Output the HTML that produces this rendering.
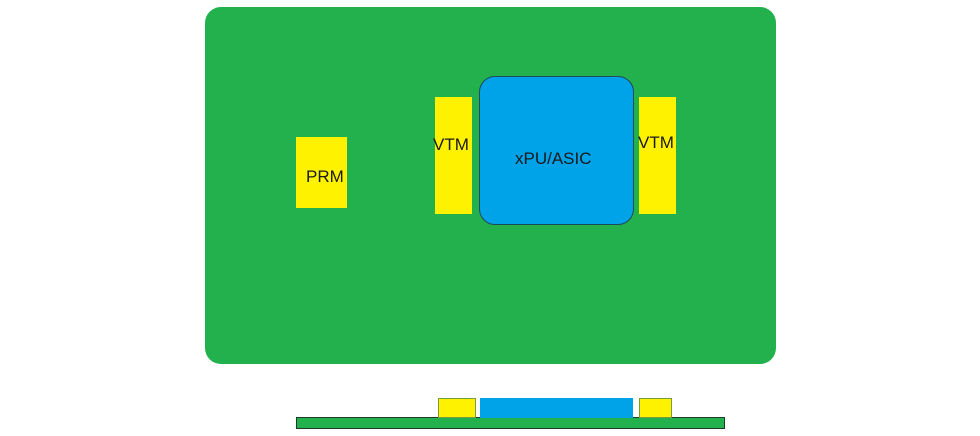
<!DOCTYPE html>
<html><head><style>
body{margin:0;width:980px;height:436px;background:#fff;position:relative;overflow:hidden;font-family:"Liberation Sans",sans-serif}
div{position:absolute;box-sizing:border-box}
.t{font-size:17px;color:#1a1a1a;white-space:nowrap}
</style></head><body>
<div style="left:205px;top:7px;width:571px;height:357px;background:#22b14c;border-radius:16px"></div>
<div style="left:296px;top:137px;width:51px;height:71px;background:#fff200"></div>
<div class="t" style="left:306px;top:167px">PRM</div>
<div style="left:435px;top:97px;width:37px;height:117px;background:#fff200"></div>
<div class="t" style="left:433px;top:135px">VTM</div>
<div style="left:639px;top:97px;width:37px;height:117px;background:#fff200"></div>
<div class="t" style="left:638px;top:133px">VTM</div>
<div style="left:479px;top:76px;width:155px;height:149px;background:#00a2e8;border:1.5px solid #1f4a5a;border-radius:16px"></div>
<div class="t" style="left:515px;top:149px">xPU/ASIC</div>
<div style="left:296px;top:417px;width:429px;height:12px;background:#22b14c;border:1.5px solid #1e3a28"></div>
<div style="left:438px;top:398px;width:38px;height:20px;background:#fff200;border:1px solid #7a9a40"></div>
<div style="left:480px;top:398px;width:153px;height:20px;background:#00a2e8"></div>
<div style="left:639px;top:398px;width:33px;height:20px;background:#fff200;border:1px solid #7a9a40"></div>
</body></html>
